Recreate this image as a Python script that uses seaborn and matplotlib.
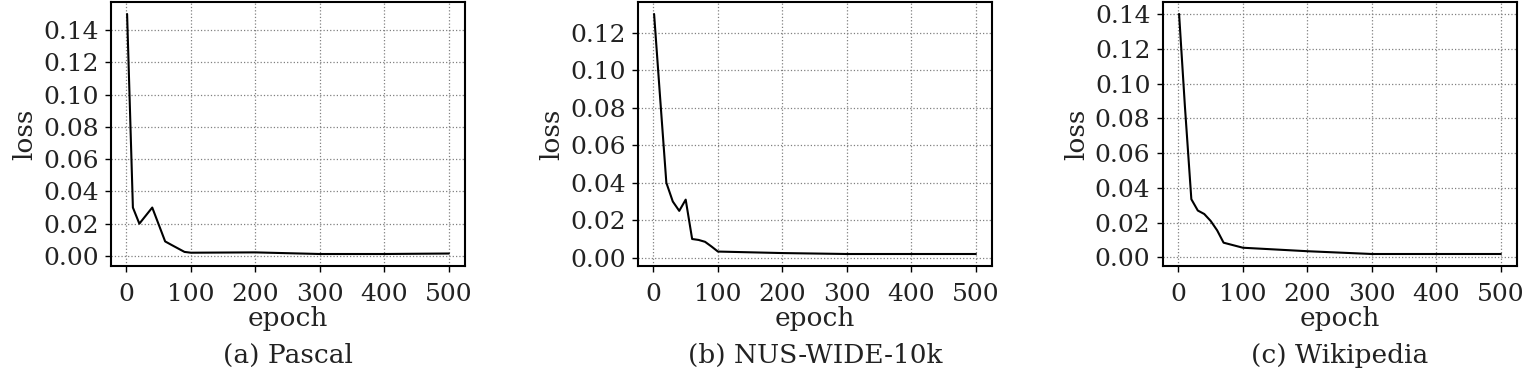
import matplotlib
matplotlib.use("Agg")
import matplotlib.pyplot as plt
import seaborn as sns
import pandas as pd

# ---- data ----
pascal_epoch = [1, 10, 20, 40, 60, 70, 90, 100, 200, 300, 400, 500]
pascal_loss = [0.150, 0.030, 0.020, 0.030, 0.009, 0.0068, 0.0025, 0.002, 0.0022, 0.0012, 0.0012, 0.0015]

nus_epoch = [1, 10, 20, 30, 40, 50, 60, 70, 80, 90, 100, 200, 300, 400, 500]
nus_loss = [0.130, 0.087, 0.040, 0.030, 0.025, 0.031, 0.010, 0.0095, 0.0085, 0.006, 0.0033, 0.0025, 0.002, 0.002, 0.002]

wiki_epoch = [1, 10, 20, 30, 40, 50, 60, 70, 100, 200, 300, 400, 500]
wiki_loss = [0.140, 0.087, 0.0335, 0.027, 0.025, 0.021, 0.0156, 0.0085, 0.0056, 0.0036, 0.002, 0.002, 0.002]

titles = ["(a) Pascal", "(b) NUS-WIDE-10k", "(c) Wikipedia"]
xticks = [0, 100, 200, 300, 400, 500]
yticks_list = [
    [0.00, 0.02, 0.04, 0.06, 0.08, 0.10, 0.12, 0.14],
    [0.00, 0.02, 0.04, 0.06, 0.08, 0.10, 0.12],
    [0.00, 0.02, 0.04, 0.06, 0.08, 0.10, 0.12, 0.14],
]
xlabel = "epoch"
ylabel = "loss"

datasets = [(pascal_epoch, pascal_loss), (nus_epoch, nus_loss), (wiki_epoch, wiki_loss)]

sns.set_style("ticks")
plt.rcParams["font.family"] = ["DejaVu Serif"]
plt.rcParams["mathtext.fontset"] = "dejavuserif"
plt.rcParams["text.color"] = "#222222"

fig = plt.figure(figsize=(15.3, 3.75), dpi=100)
lefts = [111 / 1530, 638 / 1530, 1163 / 1530]
width = 354 / 1530
bottom = 1 - 266 / 375
height = 264 / 375

for left, (ep, ls), title, yt in zip(lefts, datasets, titles, yticks_list):
    ax = fig.add_axes([left, bottom, width, height])
    df = pd.DataFrame({"epoch": ep, "loss": ls})
    sns.lineplot(data=df, x="epoch", y="loss", ax=ax, color="black", linewidth=1.5)
    ax.set_xticks(xticks)
    ax.set_yticks(yt)
    ax.yaxis.set_major_formatter(matplotlib.ticker.FormatStrFormatter("%.2f"))
    ax.grid(True, linestyle=":", color="#808080", linewidth=0.9)
    for s in ax.spines.values():
        s.set_visible(True)
        s.set_linewidth(1.5)
        s.set_color("black")
    ax.tick_params(axis="both", labelsize=18, length=4, width=1.0, pad=5,
                   colors="black", labelcolor="#222222")
    ax.tick_params(axis="x", pad=8)
    ax.set_xlabel(xlabel, fontsize=19, labelpad=0, color="#222222")
    ax.set_ylabel(ylabel, fontsize=19, labelpad=4, color="#222222")
    ax.text(0.5, -0.34, title, transform=ax.transAxes, ha="center", va="center",
            fontsize=19, color="#222222")

fig.savefig("out.png", dpi=100)
